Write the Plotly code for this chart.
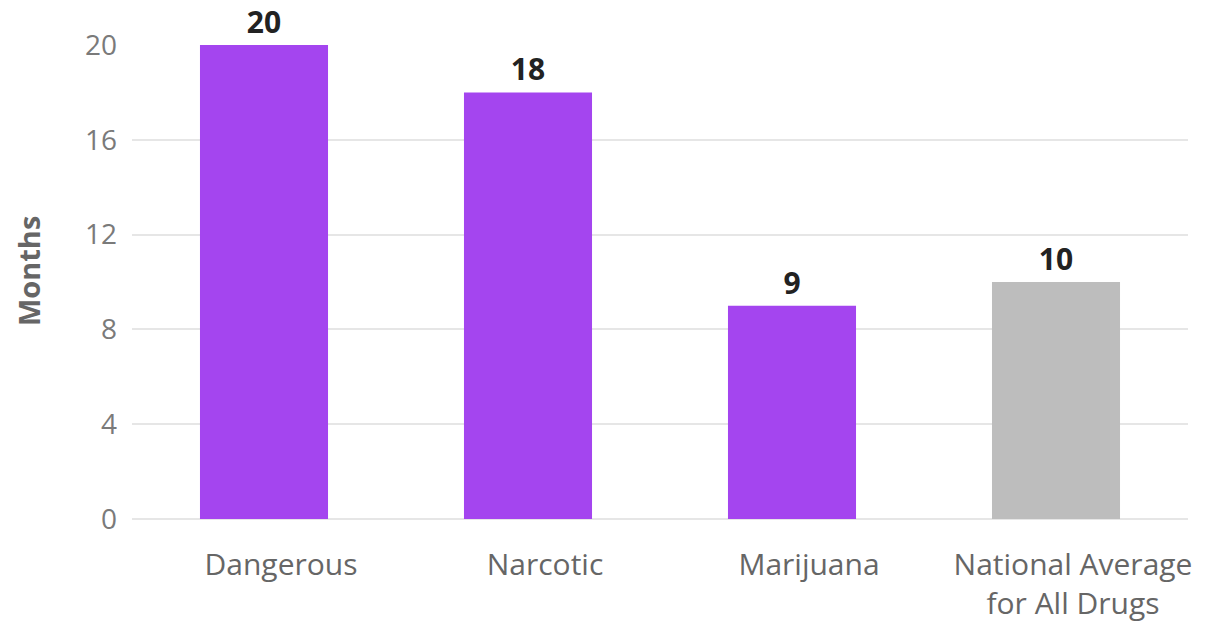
import plotly.graph_objects as go

categories = ["Dangerous", "Narcotic", "Marijuana", "National Average<br>for All Drugs"]
values = [20, 18, 9, 10]
bar_colors = ["#a445ef", "#a445ef", "#a445ef", "#bdbdbd"]
y_ticks = [0, 4, 8, 12, 16, 20]
y_title = "Months"

FONT = "Open Sans"

fig = go.Figure(go.Bar(
    x=categories, y=values,
    marker=dict(color=bar_colors, line=dict(width=0)),
    text=[str(v) for v in values], textposition="outside",
    textfont=dict(family=FONT, size=30, color="#222222", weight="bold"),
    cliponaxis=False,
))

fig.update_layout(
    width=1216, height=623,
    margin=dict(l=124, r=36, t=37, b=112),
    paper_bgcolor="white", plot_bgcolor="white",
    bargap=0.515,
    showlegend=False,
    font=dict(family=FONT, color="#6b6b6b"),
)
fig.update_xaxes(
    tickfont=dict(family=FONT, size=30, color="#666666", weight=500),
    showgrid=False, showline=False, ticks="", ticklabelstandoff=25,
    ticklabelshift=17, automargin=False,
)
fig.update_yaxes(
    range=[0, 20], tickvals=y_ticks,
    tickfont=dict(family=FONT, size=28, color="#7a7a7a"),
    gridcolor="#e6e6e6", gridwidth=2,
    zeroline=True, zerolinecolor="#e6e6e6", zerolinewidth=2,
    ticklabelstandoff=14, automargin=False,
)
fig.add_annotation(
    text="<b>" + y_title + "</b>", textangle=-90,
    xref="paper", yref="paper", x=0, y=0.523, xshift=-104,
    xanchor="center", yanchor="middle", showarrow=False,
    font=dict(family=FONT, size=29, color="#666666"),
)

fig.write_html("out.html")
